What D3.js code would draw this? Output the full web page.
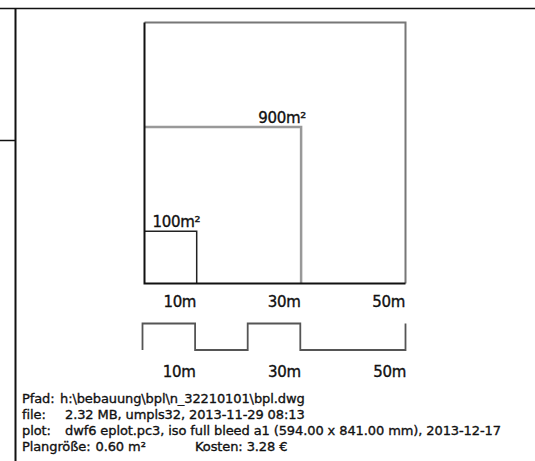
<!DOCTYPE html>
<html>
<head>
<meta charset="utf-8">
<script src="https://cdnjs.cloudflare.com/ajax/libs/d3/7.8.5/d3.min.js"></script>
<style>
  body { margin: 0; background: #fff; }
  svg { display: block; }
  text { font-family: "DejaVu Sans", sans-serif; fill: #111; stroke: #111; stroke-width: 0.35px; }
  .lbl { font-size: 15px; letter-spacing: -0.3px; }
  .foot { font-size: 13px; letter-spacing: -0.1px; }
</style>
</head>
<body>
<svg id="chart" width="535" height="461"></svg>
<script>
// side lengths of the reference squares (m)
var sides = [10, 30, 50];
var areaLabels = ["100m\u00b2", "900m\u00b2", ""];
var tickValues = [10, 30, 50];

// scale bar: alternating segments [from, to, up?]
var barSegments = [
    {from: 0, to: 10, up: true},
    {from: 10, to: 20, up: false},
    {from: 20, to: 30, up: true},
    {from: 30, to: 50, up: false}
];

var footLabels = ["Pfad:", "file:", "plot:", "Plangr\u00f6\u00dfe:"];
var footValues = [
    "h:\\bebauung\\bpl\\n_32210101\\bpl.dwg",
    "2.32 MB, umpls32, 2013-11-29 08:13",
    "dwf6 eplot.pc3, iso full bleed a1 (594.00 x 841.00 mm), 2013-12-17",
    "0.60 m\u00b2"
];
var costLabel = "Kosten: 3.28 \u20ac";

var svg = d3.select("#chart");

// page frame
svg.append("line").attr("x1", 0).attr("x2", 535).attr("y1", 8.5).attr("y2", 8.5)
    .attr("stroke", "#111").attr("stroke-width", 1.5);
svg.append("line").attr("x1", 15.5).attr("x2", 15.5).attr("y1", 8).attr("y2", 461)
    .attr("stroke", "#111").attr("stroke-width", 2);
svg.append("line").attr("x1", 0).attr("x2", 15).attr("y1", 140.5).attr("y2", 140.5)
    .attr("stroke", "#111").attr("stroke-width", 1.5);

var x = d3.scaleLinear().domain([0, 50]).range([144.5, 405.5]);
var y = d3.scaleLinear().domain([0, 50]).range([283.5, 22.5]);

var sqColor = ["#222", "#999", "#777"];
var sqWidth = [1.5, 2.5, 2];

// top + right edge of each square
svg.selectAll(".sq")
    .data(sides)
    .enter().append("path")
    .attr("class", "sq")
    .attr("fill", "none")
    .attr("stroke", (d, i) => sqColor[i])
    .attr("stroke-width", (d, i) => sqWidth[i])
    .attr("d", function (d) {
        return "M" + x(0) + "," + y(d) + "L" + x(d) + "," + y(d) + "L" + x(d) + "," + y(0);
    });

// left and bottom edge
svg.append("path")
    .attr("fill", "none")
    .attr("stroke", "#111")
    .attr("stroke-width", 2)
    .attr("d", "M" + x(0) + "," + y(50) + "L" + x(0) + "," + y(0) + "L" + x(50) + "," + y(0));

// area labels
svg.selectAll(".area")
    .data(sides.filter((d, i) => areaLabels[i]))
    .enter().append("text")
    .attr("class", "lbl")
    .attr("x", (d, i) => i == 0 ? x(0) + 8 : x(d) + 5)
    .attr("y", d => y(d) - 4)
    .attr("text-anchor", (d, i) => i == 0 ? "start" : "end")
    .text((d, i) => areaLabels[i]);

// axis labels under the square
var axis = svg.append("g")
    .attr("transform", "translate(0,307)")
    .call(d3.axisBottom(x).tickValues(tickValues).tickSize(0).tickFormat(d => d + "m"));
axis.select(".domain").remove();
axis.selectAll("text")
    .attr("class", "lbl")
    .attr("text-anchor", "end")
    .attr("x", -1)
    .attr("y", 0).attr("dy", 0);
axis.attr("font-family", null).attr("font-size", null);

// scale bar
var xb = d3.scaleLinear().domain([0, 50]).range([142.5, 405.5]);
var barTop = 323.5, barBot = 350;
var pts = [[0, barBot]];
barSegments.forEach(function (s) {
    var yy = s.up ? barTop : barBot;
    pts.push([s.from, yy]);
    pts.push([s.to, yy]);
});
pts.push([50, barTop]);
svg.append("path")
    .attr("fill", "none")
    .attr("stroke", "#555")
    .attr("stroke-width", 1.8)
    .attr("d", d3.line().x(d => xb(d[0])).y(d => d[1])(pts));

var axis2 = svg.append("g")
    .attr("transform", "translate(0,377)")
    .call(d3.axisBottom(xb).tickValues(tickValues).tickSize(0).tickFormat(d => d + "m"));
axis2.select(".domain").remove();
axis2.selectAll("text")
    .attr("class", "lbl")
    .attr("text-anchor", "end")
    .attr("y", 0).attr("dy", 0);
axis2.attr("font-family", null).attr("font-size", null);

// footer
var foot = svg.append("g");
footLabels.forEach(function (l, i) {
    var yy = 403 + i * 16;
    var lab = foot.append("text").attr("class", "foot").attr("x", 22).attr("y", yy).text(l);
    if (i < 3) {
        foot.append("text").attr("class", "foot").attr("x", i == 0 ? 60 : 65).attr("y", yy).text(footValues[i]);
    } else {
        var w = lab.node().getComputedTextLength();
        foot.append("text").attr("class", "foot").attr("x", 22 + w + 5).attr("y", yy).text(footValues[i]);
        foot.append("text").attr("class", "foot").attr("x", 195).attr("y", yy).text(costLabel);
    }
});
</script>
</body>
</html>
